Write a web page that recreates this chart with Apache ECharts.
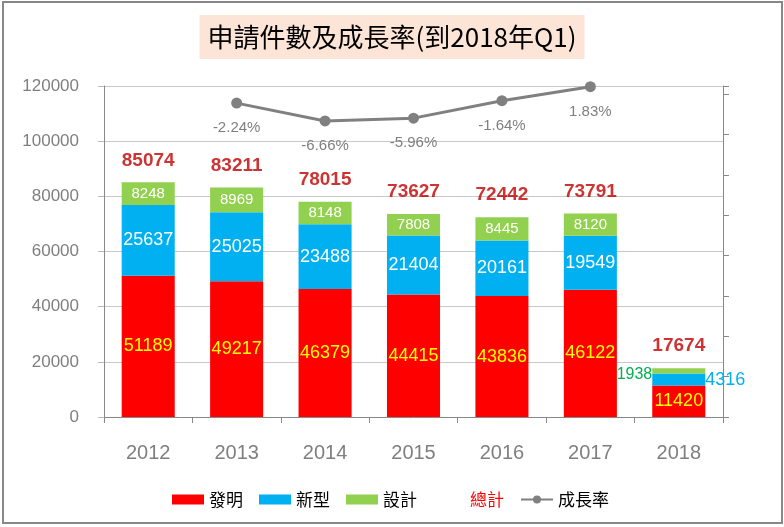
<!DOCTYPE html>
<html>
<head>
<meta charset="utf-8">
<script src="https://cdn.jsdelivr.net/npm/echarts@6/dist/echarts.min.js"></script>
<style>
html,body{margin:0;padding:0;background:#fff;}
#chart{width:784px;height:527px;}
</style>
</head>
<body>
<div id="chart"></div>
<script>
var years = ['2012','2013','2014','2015','2016','2017','2018'];
var invention = [51189, 49217, 46379, 44415, 43836, 46122, 11420];
var utility = [25637, 25025, 23488, 21404, 20161, 19549, 4316];
var design = [8248, 8969, 8148, 7808, 8445, 8120, 1938];
var totals = [85074, 83211, 78015, 73627, 72442, 73791, 17674];
var growth = [null, -0.0224, -0.0666, -0.0596, -0.0164, 0.0183, null];

var _font = '"Liberation Sans", Arial, "Noto Sans CJK TC", sans-serif';

(function(){
	var chart = echarts.init(document.getElementById('chart'));

	// 2018 只有Q1, 標籤放到柱子旁邊
	var utilityData = utility.map(function(v, i){
		if (i == 6) return {value: v, label: {position: 'right', color: '#00B0F0', distance: 0}};
		return v;
	});
	var designData = design.map(function(v, i){
		if (i == 6) return {value: v, label: {position: 'left', color: '#00B050', distance: 0, offset: [0, 4], fontSize: 16}};
		return v;
	});

	var option = {
		textStyle: {fontFamily: _font},
		title: {
			text: '申請件數及成長率(到2018年Q1)',
			left: 'center',
			top: 15,
			padding: [9, 8, 9, 8],
			backgroundColor: '#FCE4D6',
			textStyle: {
				fontFamily: '"Liberation Sans Narrow", "Noto Sans CJK TC", sans-serif',
				fontSize: 26,
				fontWeight: 'normal',
				color: '#000'
			}
		},
		legend: {
			left: 167,
			top: 486,
			itemWidth: 32,
			itemHeight: 10,
			itemGap: 16,
			textStyle: {fontSize: 17, color: '#000', fontFamily: '"Noto Sans CJK TC", sans-serif'},
			data: [
				{name: '發明', icon: 'rect'},
				{name: '新型', icon: 'rect'},
				{name: '設計', icon: 'rect'},
				{name: '總計', icon: 'none', textStyle: {color: '#FF0000'}},
				{name: '成長率'}
			]
		},
		graphic: [{
			type: 'rect',
			shape: {x: 3, y: 2, width: 779, height: 521},
			style: {fill: 'none', stroke: '#888', lineWidth: 2},
			silent: true
		}],
		grid: {left: 104, right: 61, top: 86, bottom: 110},
		xAxis: {
			type: 'category',
			data: years,
			axisLine: {lineStyle: {color: '#888'}},
			axisTick: {show: true, length: 6, lineStyle: {color: '#888'}},
			axisLabel: {fontSize: 20, color: '#7f7f7f', margin: 26}
		},
		yAxis: [
			{
				type: 'value',
				min: 0,
				max: 120000,
				interval: 20000,
				axisLine: {show: true, lineStyle: {color: '#888'}},
				axisTick: {show: true, length: 6, lineStyle: {color: '#bbb'}},
				axisLabel: {fontSize: 17, color: '#7f7f7f', margin: 25, formatter: function(v){ return String(v); }},
				splitLine: {lineStyle: {color: '#c8c8c8'}}
			},
			{
				type: 'value',
				min: -0.8,
				max: 0.02,
				interval: 0.1,
				axisLine: {show: true, lineStyle: {color: '#888'}},
				axisTick: {show: true, length: 6, lineStyle: {color: '#888'}},
				axisLabel: {show: false},
				splitLine: {show: false}
			}
		],
		series: [
			{
				name: '發明',
				type: 'bar',
				stack: 'all',
				barCategoryGap: '40%',
				itemStyle: {color: '#FF0000'},
				label: {show: true, position: 'inside', color: '#FFFF00', fontSize: 18},
				data: invention
			},
			{
				name: '新型',
				type: 'bar',
				stack: 'all',
				itemStyle: {color: '#00B0F0'},
				label: {show: true, position: 'inside', color: '#fff', fontSize: 18},
				data: utilityData
			},
			{
				name: '設計',
				type: 'bar',
				stack: 'all',
				itemStyle: {color: '#92D050'},
				label: {show: true, position: 'inside', color: '#fff', fontSize: 15},
				data: designData
			},
			{
				name: '總計',
				type: 'scatter',
				symbol: 'circle',
				symbolSize: 1,
				itemStyle: {color: 'rgba(0,0,0,0)'},
				label: {
					show: true,
					position: 'top',
					distance: 12,
					color: '#C00000',
					fontSize: 19,
					fontWeight: 'bold'
				},
				z: 5,
				data: totals
			},
			{
				name: '成長率',
				type: 'line',
				yAxisIndex: 1,
				symbol: 'circle',
				symbolSize: 11,
				itemStyle: {color: '#808080'},
				lineStyle: {color: '#808080', width: 3},
				label: {
					show: true,
					position: 'bottom',
					distance: 12,
					color: '#7f7f7f',
					fontSize: 15,
					formatter: function(p){ return (p.value * 100).toFixed(2) + '%'; }
				},
				data: growth
			}
		]
	};
	chart.setOption(option);
})();
</script>
</body>
</html>
